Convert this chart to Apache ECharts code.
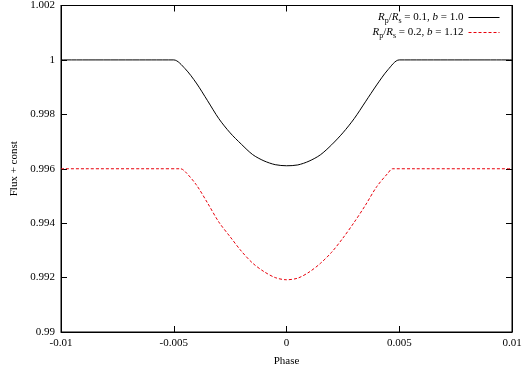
<!DOCTYPE html>
<html>
<head>
<meta charset="utf-8">
<script src="https://cdn.jsdelivr.net/npm/echarts@6/dist/echarts.min.js"></script>
<style>
  html, body { margin: 0; padding: 0; background: #fff; }
  #chart { width: 528px; height: 372px; }
</style>
</head>
<body>
<div id="chart"></div>
<script>
// 数据: 两条凌星光变曲线
var phaseBlack = [-0.01, -0.006, -0.005, -0.0045, -0.004, -0.0035, -0.003, -0.0025, -0.002, -0.0015, -0.001, -0.0005, 0,
                  0.0005, 0.001, 0.0015, 0.002, 0.0025, 0.003, 0.0035, 0.004, 0.0045, 0.005, 0.006, 0.01]
var fluxBlack = [1.0, 1.0, 1.0, 0.99968, 0.99915, 0.99850, 0.99784, 0.99732, 0.99690, 0.99652, 0.99629, 0.99615, 0.99611,
                 0.99614, 0.99628, 0.99651, 0.99688, 0.99732, 0.99784, 0.99846, 0.99908, 0.99964, 1.0, 1.0, 1.0]

var phaseRed = [-0.01, -0.0057, -0.0047, -0.0045, -0.004, -0.0035, -0.003, -0.0025, -0.002, -0.0015, -0.001, -0.0005, 0,
                0.0005, 0.001, 0.0015, 0.002, 0.0025, 0.003, 0.0035, 0.004, 0.0045, 0.0047, 0.0057, 0.01]
var fluxRed = [0.996, 0.996, 0.996, 0.99590, 0.99541, 0.99474, 0.99404, 0.99350, 0.99297, 0.99253, 0.99222, 0.99200, 0.99192,
               0.99198, 0.99220, 0.99252, 0.99293, 0.99345, 0.99403, 0.99466, 0.99534, 0.99584, 0.996, 0.996, 0.996]

var seriesNames = ['black', 'red']
var legendLabels = [
    '{i|R}{s|p}{n|/}{i|R}{s|s}{n| = 0.1, }{i|b}{n| = 1.0}',
    '{i|R}{s|p}{n|/}{i|R}{s|s}{n| = 0.2, }{i|b}{n| = 1.12}'
]

var xTicks = [-0.01, -0.005, 0, 0.005, 0.01]
var xTickLabels = ['-0.01', '-0.005', '0', '0.005', '0.01']
var yTicks = [0.99, 0.992, 0.994, 0.996, 0.998, 1, 1.002]
var yTickLabels = ['0.99', '0.992', '0.994', '0.996', '0.998', '1', '1.002']

function pairs(xs, ys) {
    let res = []
    xs.forEach((x, i) => res.push([x, ys[i]]))
    return res
}

function tickLabel(ticks, labels) {
    return function (v) {
        for (let i = 0; i < ticks.length; i++) {
            if (Math.abs(ticks[i] - v) < 1e-9) return labels[i]
        }
        return ''
    }
}

var font = 'Liberation Serif'
var myChart = echarts.init(document.getElementById('chart'))

var tickStyle = { show: true, inside: true, length: 6, lineStyle: { color: '#000', width: 1 } }
var lineStyleAxis = { show: true, onZero: false, lineStyle: { color: '#000' } }
var xBase = { type: 'value', min: -0.01, max: 0.01, interval: 0.005, splitLine: { show: false } }
var yBase = { type: 'value', min: 0.99, max: 1.002, interval: 0.002, splitLine: { show: false } }

var option = {
    animation: false,
    backgroundColor: '#fff',
    grid: {
        left: 61, right: 16, top: 5, bottom: 37,
        show: true, borderColor: '#000', borderWidth: 1
    },
    legend: {
        data: seriesNames,
        right: 23,
        top: 7,
        orient: 'vertical',
        align: 'right',
        itemWidth: 31,
        itemHeight: 10,
        itemGap: 2,
        itemStyle: { opacity: 0 },
        lineStyle: { width: 1 },
        formatter: function (name) {
            return legendLabels[seriesNames.indexOf(name)]
        },
        textStyle: {
            fontFamily: font,
            fontSize: 11,
            color: '#000',
            rich: {
                i: { fontFamily: font, fontSize: 11, fontStyle: 'italic', color: '#000' },
                n: { fontFamily: font, fontSize: 11, color: '#000' },
                s: { fontFamily: font, fontSize: 8, color: '#000', padding: [7, 0, 0, 0] }
            }
        }
    },
    xAxis: [
        Object.assign({}, xBase, {
            position: 'bottom',
            name: 'Phase',
            nameLocation: 'middle',
            nameGap: 24,
            nameTextStyle: { fontFamily: font, fontSize: 11, color: '#000' },
            axisLine: lineStyleAxis,
            axisTick: tickStyle,
            axisLabel: { fontFamily: font, fontSize: 11, color: '#000', margin: 6, formatter: tickLabel(xTicks, xTickLabels) }
        }),
        Object.assign({}, xBase, {
            position: 'top',
            axisLine: lineStyleAxis,
            axisTick: tickStyle,
            axisLabel: { show: false }
        })
    ],
    yAxis: [
        Object.assign({}, yBase, {
            position: 'left',
            name: 'Flux + const',
            nameLocation: 'middle',
            nameGap: 41,
            nameTextStyle: { fontFamily: font, fontSize: 11, color: '#000' },
            axisLine: lineStyleAxis,
            axisTick: tickStyle,
            axisLabel: { fontFamily: font, fontSize: 11, color: '#000', margin: 6, formatter: tickLabel(yTicks, yTickLabels) }
        }),
        Object.assign({}, yBase, {
            position: 'right',
            axisLine: lineStyleAxis,
            axisTick: tickStyle,
            axisLabel: { show: false }
        })
    ],
    series: [
        {
            name: 'black',
            type: 'line',
            data: pairs(phaseBlack, fluxBlack),
            showSymbol: false,
            symbol: 'none',
            smooth: 0.3,
            lineStyle: { color: '#000', width: 1 },
            itemStyle: { color: '#000' }
        },
        {
            name: 'red',
            type: 'line',
            data: pairs(phaseRed, fluxRed),
            showSymbol: false,
            symbol: 'none',
            smooth: 0.3,
            lineStyle: { color: '#e8000b', width: 1, type: [3, 2] },
            itemStyle: { color: '#e8000b' }
        }
    ]
}
myChart.setOption(option)
</script>
</body>
</html>
